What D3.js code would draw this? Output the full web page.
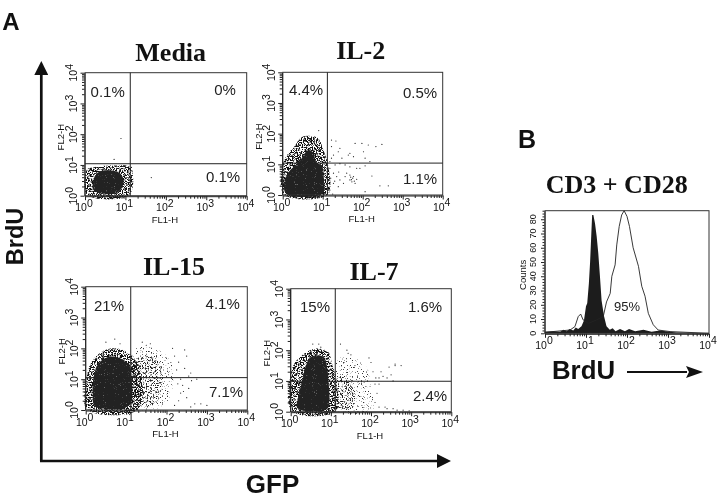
<!DOCTYPE html>
<html><head><meta charset="utf-8">
<script src="https://cdn.jsdelivr.net/npm/d3@7/dist/d3.min.js"></script>
<style>html,body{margin:0;padding:0;background:#fff}svg{display:block;filter:blur(.3px)}</style></head>
<body><svg id="c" width="720" height="499"></svg>
<script>
// ---- data (all coordinates are log10 decades of fluorescence) ----
const panelTitles = ["Media","IL-2","IL-15","IL-7"];
const quadrantLabels = [["0.1%","0%","0.1%"],["4.4%","0.5%","1.1%"],["21%","4.1%","7.1%"],["15%","1.6%","2.4%"]];
const decades = [1,10,100,1000,10000];
const gates = [[1.12,1.04],[1.117,1.04],[1.115,1.05],[1.11,0.99]];
const cores = [
 [[.2,.2],[.35,.08],[.6,.05],[.8,.1],[.93,.3],[.95,.55],[.85,.75],[.6,.83],[.35,.78],[.22,.55]],
 [[.08,.05],[1.0,.05],[1.03,.5],[.98,.95],[.85,1.05],[.75,1.4],[.62,1.45],[.45,1.15],[.3,.95],[.08,.6]],
 [[.23,.11],[.52,.03],[.93,.05],[1.12,.22],[1.14,.97],[1.08,1.45],[.85,1.68],[.56,1.72],[.31,1.5],[.2,1.08],[.17,.54]],
 [[.17,.11],[.9,.08],[.96,.38],[.94,1.03],[.9,1.5],[.82,1.78],[.5,1.78],[.38,1.5],[.29,1.03],[.19,.49]]
];
const halos = [
 [[.05,.03],[1.1,.03],[1.12,.92],[.7,.98],[.2,.92],[.05,.85]],
 [[.03,.02],[1.13,.02],[1.13,1.0],[1.02,1.45],[.88,1.85],[.5,1.9],[.3,1.6],[.03,1.1]],
 [[.03,.02],[1.3,.02],[1.3,1.45],[1.05,1.85],[.7,2.0],[.35,1.85],[.1,1.45],[.02,1.0]],
 [[.03,.02],[1.12,.02],[1.12,1.1],[1.03,1.55],[.93,1.95],[.6,2.05],[.3,1.85],[.05,1.45]]
];
const clouds = [
 [],
 [],
 [[1.14,.05],[1.76,.05],[2.05,.32],[2.17,.97],[2.09,1.62],[1.68,2.0],[1.26,2.0],[1.14,1.62]],
 [[1.11,.08],[2.06,.08],[1.98,.92],[1.89,1.46],[1.48,1.79],[1.15,1.73]]
];
const denseClouds = [
 [],[],
 [[1.18,.22],[1.76,.22],[1.88,.97],[1.84,1.51],[1.6,1.73],[1.22,1.62]],
 [[1.12,.15],[1.55,.15],[1.6,.7],[1.5,1.1],[1.14,1.2]]
];
const sparse = [
 [[.89,1.86],[.72,1.18],[1.64,.59],[1.15,.92],[1.17,.8],[1.15,.62],[1.17,.45],[1.14,.3]],
 [[1.22,1.79],[1.33,1.76],[1.22,1.58],[1.43,1.52],[1.39,1.41],[1.27,1.3],[1.68,1.36],[1.77,1.25],[1.64,1.3],[1.81,1.68],[1.98,1.68],[2.14,1.63],[2.33,1.58],[2.48,1.65],[2.02,1.41],[2.06,1.2],[2.18,1.09],[1.56,.98],[1.68,.92],[1.85,.87],[2.06,.95],[1.18,.87],[1.27,.71],[1.35,.6],[1.43,.49],[1.27,.38],[1.39,.27],[1.52,.38],[1.6,.71],[1.68,.49],[1.77,.6],[1.73,.43],[1.81,.38],[1.85,.51],[1.68,.65],[2.06,.11],[2.23,.62],[2.43,.3],[2.64,.3],[1.18,.16],[1.25,.03],[1.93,.87],[1.56,.6],[1.18,1.09],[1.31,.98],[1.43,1.02],[1.48,1.2],[1.22,1.2],[1.75,.55],[1.7,.58],[1.72,.5],[1.79,.45],[1.4,.75],[1.3,.45],[1.2,.55],[.9,2.1]],
 [[2.3,1.55],[2.45,1.35],[2.5,1.75],[2.55,1.1],[2.35,1.0],[2.6,1.2],[2.4,.8],[2.55,.7],[2.35,.55],[2.5,.4],[2.7,.2],[2.85,.2],[3.0,.15],[2.3,.3],[2.2,.15],[2.6,.1],[2.75,1.0],[2.45,1.95],[2.2,1.75],[2.25,1.3],[1.5,2.1],[1.6,2.15],[1.4,2.2],[.72,2.3],[.5,2.2],[.85,2.15],[2.28,.85],[2.42,.6],[2.15,2.0],[2.62,.95]],
 [[.7,2.2],[.75,2.1],[.55,2.2],[1.24,2.2],[1.43,1.9],[1.5,1.85],[1.4,2.0],[1.6,1.5],[2.05,1.3],[2.25,1.3],[2.45,1.45],[2.6,1.55],[2.6,1.5],[2.75,1.5],[2.4,1.1],[2.3,1.15],[2.5,1.2],[2.55,1.0],[2.2,1.1],[2.12,1.1],[2.1,.9],[2.15,.6],[2.1,.3],[2.2,.15],[2.35,.15],[2.4,.1],[2.55,.1],[2.65,.05],[2.8,.05],[2.95,.03],[2.0,1.6],[2.2,.9],[1.95,1.75]]
];
// Panel B histograms: [decade, counts]
const filledHist = [[0,1],[.2,1.5],[.37,1],[.45,2.5],[.53,1.5],[.6,3],[.69,2],[.75,4],[.81,3],[.89,5],[.95,9],[1,19],[1.03,21],[1.07,35],[1.1,50],[1.13,70],[1.15,83],[1.18,83],[1.2,80],[1.22,77],[1.26,68],[1.3,56],[1.34,40],[1.38,23],[1.44,12],[1.5,5],[1.58,2.5],[1.65,3.5],[1.72,1.5],[1.83,3],[1.95,1.5],[2.05,3],[2.2,1.5],[2.4,2.5],[2.6,1],[2.8,2],[3.2,.5],[4,0]];
const openHist = [[0,.7],[.61,2.3],[.73,4.7],[.81,11.7],[.87,13.5],[.93,9.4],[1.06,7],[1.26,9.4],[1.42,11.7],[1.5,22],[1.59,28],[1.63,40],[1.71,48],[1.75,62],[1.81,75],[1.87,83],[1.93,86],[2,82],[2.06,75],[2.15,60],[2.28,47],[2.36,33],[2.44,26],[2.52,14],[2.64,6],[2.76,2.3],[3.05,1.2],[4,0]];
const countTicks = [0,10,20,30,40,50,60,70,80];

// ---- layout ----
const frames = [
 {x0:85,x1:246.7,y0:72.7,y1:195.7,t:[170.7,60.7],pc:[[107.7,97],[225,95],[223,182]]},
 {x0:282.7,x1:442.7,y0:72.3,y1:195,t:[360.7,59.3],pc:[[306,95],[420,98],[420,184]]},
 {x0:85.7,x1:247.3,y0:286.7,y1:410,t:[174,275],pc:[[109,310.7],[222.7,309],[226,397]]},
 {x0:290.7,x1:451.3,y0:288.7,y1:411.7,t:[374,280],pc:[[315,311.7],[425,312],[430,400.7]]}
];
const svg = d3.select("#c");
const defs = svg.append("defs");
function stipple(id,k,t,seed,f){
  const fl = defs.append("filter").attr("id",id).attr("filterUnits","userSpaceOnUse")
    .attr("x",0).attr("y",0).attr("width",720).attr("height",499)
    .attr("color-interpolation-filters","sRGB");
  fl.append("feTurbulence").attr("type","fractalNoise").attr("baseFrequency",f).attr("numOctaves",2).attr("seed",seed).attr("result","n");
  fl.append("feColorMatrix").attr("in","n").attr("type","matrix")
    .attr("values",`0 0 0 0 0 0 0 0 0 0 0 0 0 0 0 ${k} 0 0 0 ${t}`).attr("result","m");
  fl.append("feComposite").attr("in","SourceGraphic").attr("in2","m").attr("operator","in");
}
stipple("dense",9,-4.0,5,0.8);
stipple("medium",9,-4.9,11,0.8);
stipple("light",9,-5.6,17,0.8);
stipple("spots",9,-6.0,29,0.9);
defs.append("marker").attr("id","ah").attr("viewBox","0 0 14 14").attr("refX",1).attr("refY",7)
  .attr("markerWidth",14).attr("markerHeight",14).attr("markerUnits","userSpaceOnUse").attr("orient","auto")
  .append("path").attr("d","M0,0L14,7L0,14Z").attr("fill","#111");
defs.append("marker").attr("id","ah2").attr("viewBox","0 0 17 12").attr("refX",1).attr("refY",6)
  .attr("markerWidth",17).attr("markerHeight",12).attr("markerUnits","userSpaceOnUse").attr("orient","auto")
  .append("path").attr("d","M0,0L17,6L0,12L3,6Z").attr("fill","#111");

const tickFont = "'Liberation Sans',Arial,sans-serif";
function decadeLabel(g,x,y,exp,rot){
  const t = g.append("text").attr("font-family",tickFont).attr("font-size",10.5).attr("fill","#111")
    .attr("text-anchor","middle").attr("transform",`translate(${x},${y})`+(rot?" rotate(-90)":""));
  t.append("tspan").text("10");
  t.append("tspan").attr("dy",-4.5).text(exp);
}
const minors = [];
decades.slice(0,4).forEach(d=>{for(let m=2;m<10;m++)minors.push(d*m)});
function logAxes(g,sx,sy,f,yAxis){
  const bx = d3.axisBottom(sx).tickValues(decades.concat(minors)).tickFormat("").tickSizeOuter(0);
  const ax = g.append("g").attr("transform",`translate(0,${f.y1+.5})`).call(bx);
  ax.selectAll("line").attr("y2",d=>decades.includes(d)?4:2.5).attr("stroke","#222");
  ax.select(".domain").attr("stroke","#222");
  decades.forEach((d,i)=>decadeLabel(g,sx(d)-1,f.y1+15.5,i,false));
  if(yAxis){
    const by = d3.axisLeft(sy).tickValues(decades.concat(minors)).tickFormat("").tickSizeOuter(0);
    const ay = g.append("g").attr("transform",`translate(${f.x0-.5},0)`).call(by);
    ay.selectAll("line").attr("x2",d=>decades.includes(d)?-4:-2.5).attr("stroke","#222");
    ay.select(".domain").attr("stroke","#222");
    decades.forEach((d,i)=>decadeLabel(g,f.x0-8,sy(d),i,true));
  }
}
frames.forEach((f,i)=>{
  const g = svg.append("g");
  const sx = d3.scaleLog().domain([1,1e4]).range([f.x0,f.x1]);
  const sy = d3.scaleLog().domain([1,1e4]).range([f.y1,f.y0]);
  const px = e=>sx(Math.pow(10,e)), py = e=>sy(Math.pow(10,e));
  const poly = d3.line().x(d=>px(d[0])).y(d=>py(d[1])).curve(d3.curveCatmullRomClosed.alpha(.5));
  const marks = g.append("g");
  if(clouds[i].length) marks.append("path").attr("d",poly(clouds[i])).attr("fill","#333").attr("filter","url(#light)");
  if(denseClouds[i].length) marks.append("path").attr("d",poly(denseClouds[i])).attr("fill","#222").attr("filter","url(#medium)");
  marks.append("path").attr("d",poly(halos[i])).attr("fill","#111").attr("filter","url(#dense)");
  marks.append("path").attr("d",poly(cores[i])).attr("fill","#222");
  marks.append("path").attr("d",poly(cores[i])).attr("fill","#666").attr("filter","url(#spots)");
  marks.selectAll("circle").data(sparse[i]).join("circle")
    .attr("cx",d=>px(d[0])).attr("cy",d=>py(d[1])).attr("r",.6).attr("fill","#222");
  g.append("rect").attr("x",f.x0).attr("y",f.y0).attr("width",f.x1-f.x0).attr("height",f.y1-f.y0)
    .attr("fill","none").attr("stroke","#333").attr("stroke-width",1);
  g.append("line").attr("x1",px(gates[i][0])).attr("x2",px(gates[i][0])).attr("y1",f.y0).attr("y2",f.y1).attr("stroke","#222").attr("stroke-width",1);
  g.append("line").attr("x1",f.x0).attr("x2",f.x1).attr("y1",py(gates[i][1])).attr("y2",py(gates[i][1])).attr("stroke","#222").attr("stroke-width",1);
  logAxes(g,sx,sy,f,true);
  g.append("text").attr("x",(f.x0+f.x1)/2-1).attr("y",f.y1+27).attr("text-anchor","middle")
    .attr("font-family",tickFont).attr("font-size",9.5).attr("fill","#111").text("FL1-H");
  g.append("text").attr("transform",`translate(${f.x0-21},${(f.y0+f.y1)/2+3}) rotate(-90)`).attr("text-anchor","middle")
    .attr("font-family",tickFont).attr("font-size",9.5).attr("fill","#111").text("FL2-H");
  g.append("text").attr("x",f.t[0]).attr("y",f.t[1]).attr("text-anchor","middle")
    .attr("font-family","'Liberation Serif',serif").attr("font-weight","bold").attr("font-size",26).attr("fill","#111").text(panelTitles[i]);
  quadrantLabels[i].forEach((s,j)=>g.append("text").attr("x",f.pc[j][0]).attr("y",f.pc[j][1])
    .attr("text-anchor","middle").attr("font-family",tickFont).attr("font-size",15).attr("fill","#222").text(s));
});

// Panel B
const fB = {x0:545,x1:709,y0:210.7,y1:333.3};
const gB = svg.append("g");
const hx = d3.scaleLog().domain([1,1e4]).range([fB.x0,fB.x1]);
const hy = d3.scaleLinear().domain([0,86]).range([fB.y1,fB.y0]);
const hpx = e=>hx(Math.pow(10,e));
gB.append("path").attr("d",d3.area().x(d=>hpx(d[0])).y0(hy(0)).y1(d=>hy(d[1]))(filledHist)).attr("fill","#1c1c1c");
gB.append("path").attr("d",d3.line().x(d=>hpx(d[0])).y(d=>hy(d[1]))(openHist)).attr("fill","none").attr("stroke","#222").attr("stroke-width",.9);
gB.append("rect").attr("x",fB.x0).attr("y",fB.y0).attr("width",fB.x1-fB.x0).attr("height",fB.y1-fB.y0).attr("fill","none").attr("stroke","#333");
logAxes(gB,hx,hy,fB,false);
const axC = gB.append("g").attr("transform",`translate(${fB.x0-.5},0)`)
  .call(d3.axisLeft(hy).tickValues(d3.range(0,87,2)).tickFormat("").tickSizeOuter(0));
axC.selectAll("line").attr("x2",d=>d%10===0?-3.5:-2).attr("stroke","#222");
axC.select(".domain").attr("stroke","#222");
countTicks.forEach(c=>gB.append("text").attr("transform",`translate(${fB.x0-9},${hy(c)}) rotate(-90)`)
  .attr("text-anchor","middle").attr("font-family",tickFont).attr("font-size",9).attr("fill","#111").text(c));
gB.append("text").attr("transform",`translate(${fB.x0-19},${hy(41)}) rotate(-90)`).attr("text-anchor","middle")
  .attr("font-family",tickFont).attr("font-size",9.5).attr("fill","#111").text("Counts");
gB.append("text").attr("x",627).attr("y",311).attr("text-anchor","middle").attr("font-family",tickFont).attr("font-size",13).attr("fill","#222").text("95%");
gB.append("text").attr("x",616.7).attr("y",192.7).attr("text-anchor","middle").attr("font-family","'Liberation Serif',serif").attr("font-weight","bold").attr("font-size",26).attr("fill","#111").text("CD3 + CD28");

// Big labels and arrows
const big = (s,x,y,fs,tr)=>svg.append("text").attr("transform",`translate(${x},${y})`+(tr||"")).attr("font-family",tickFont).attr("font-weight","bold").attr("font-size",fs).attr("fill","#111").attr("text-anchor","middle").text(s);
big("A",11,30,24);
big("B",527,148,25);
big("BrdU",23,236.5,23.5," rotate(-90)");
big("GFP",272.5,493,26);
big("BrdU",583.5,379,25.8);
const arrow=(x1,y1,x2,y2,w,m)=>svg.append("line").attr("x1",x1).attr("y1",y1).attr("x2",x2).attr("y2",y2).attr("stroke","#111").attr("stroke-width",w).attr("marker-end",`url(#${m})`);
arrow(41.3,461,41.3,74,2.7,"ah");
arrow(40,461,438,461,2.7,"ah");
arrow(627,372,687,372,2,"ah2");
</script></body></html>
